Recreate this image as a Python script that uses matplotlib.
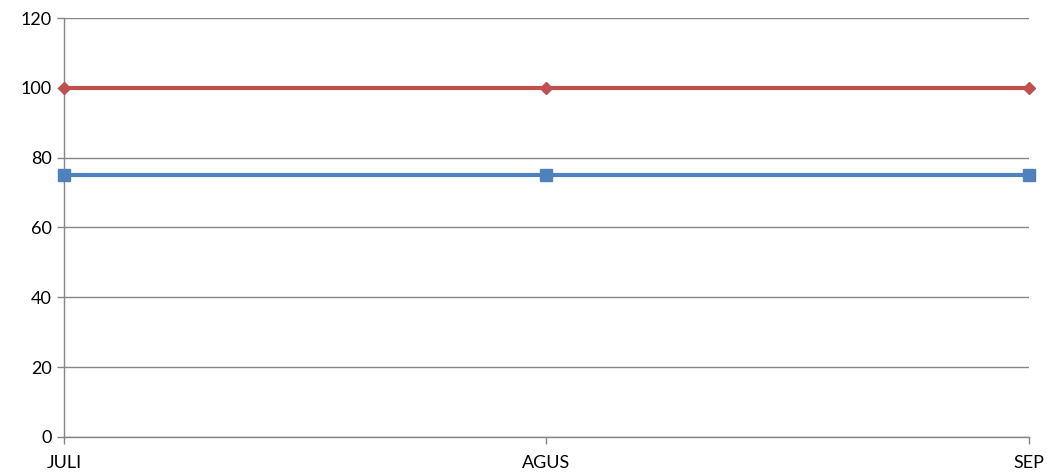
import matplotlib

matplotlib.use("Agg")
import matplotlib.pyplot as plt  # noqa: E402

plt.rcParams["font.family"] = ["Lato", "DejaVu Sans"]

months = ["JULI", "AGUS", "SEP"]
red_values = [100, 100, 100]
blue_values = [75, 75, 75]
y_ticks = [0, 20, 40, 60, 80, 100, 120]

grid_color = "#868686"

fig = plt.figure(figsize=(10.47, 4.74), dpi=100)
ax = fig.add_axes([0.0611, 0.0781, 0.9217, 0.8839])

xs = list(range(len(months)))
ax.plot(xs, red_values, color="#C0504D", linewidth=3, marker="D",
        markersize=6, zorder=3, clip_on=False)
ax.plot(xs, blue_values, color="#4F81BD", linewidth=3, marker="s",
        markersize=8, zorder=3, clip_on=False)

ax.set_xlim(0, len(months) - 1)
ax.set_ylim(0, 120)
ax.set_xticks(xs)
ax.set_xticklabels(months)
ax.set_yticks(y_ticks)
ax.yaxis.grid(True, color=grid_color, linewidth=1)
ax.set_axisbelow(True)

for side in ("top", "right"):
    ax.spines[side].set_visible(False)
for side in ("left", "bottom"):
    ax.spines[side].set_color(grid_color)
    ax.spines[side].set_linewidth(1)

ax.tick_params(axis="both", direction="out", length=5, width=1,
               color=grid_color, labelsize=13, labelcolor="black")
ax.tick_params(axis="x", pad=8)
ax.tick_params(axis="y", pad=4)

fig.savefig("out.png", dpi=100)
plt.close(fig)
